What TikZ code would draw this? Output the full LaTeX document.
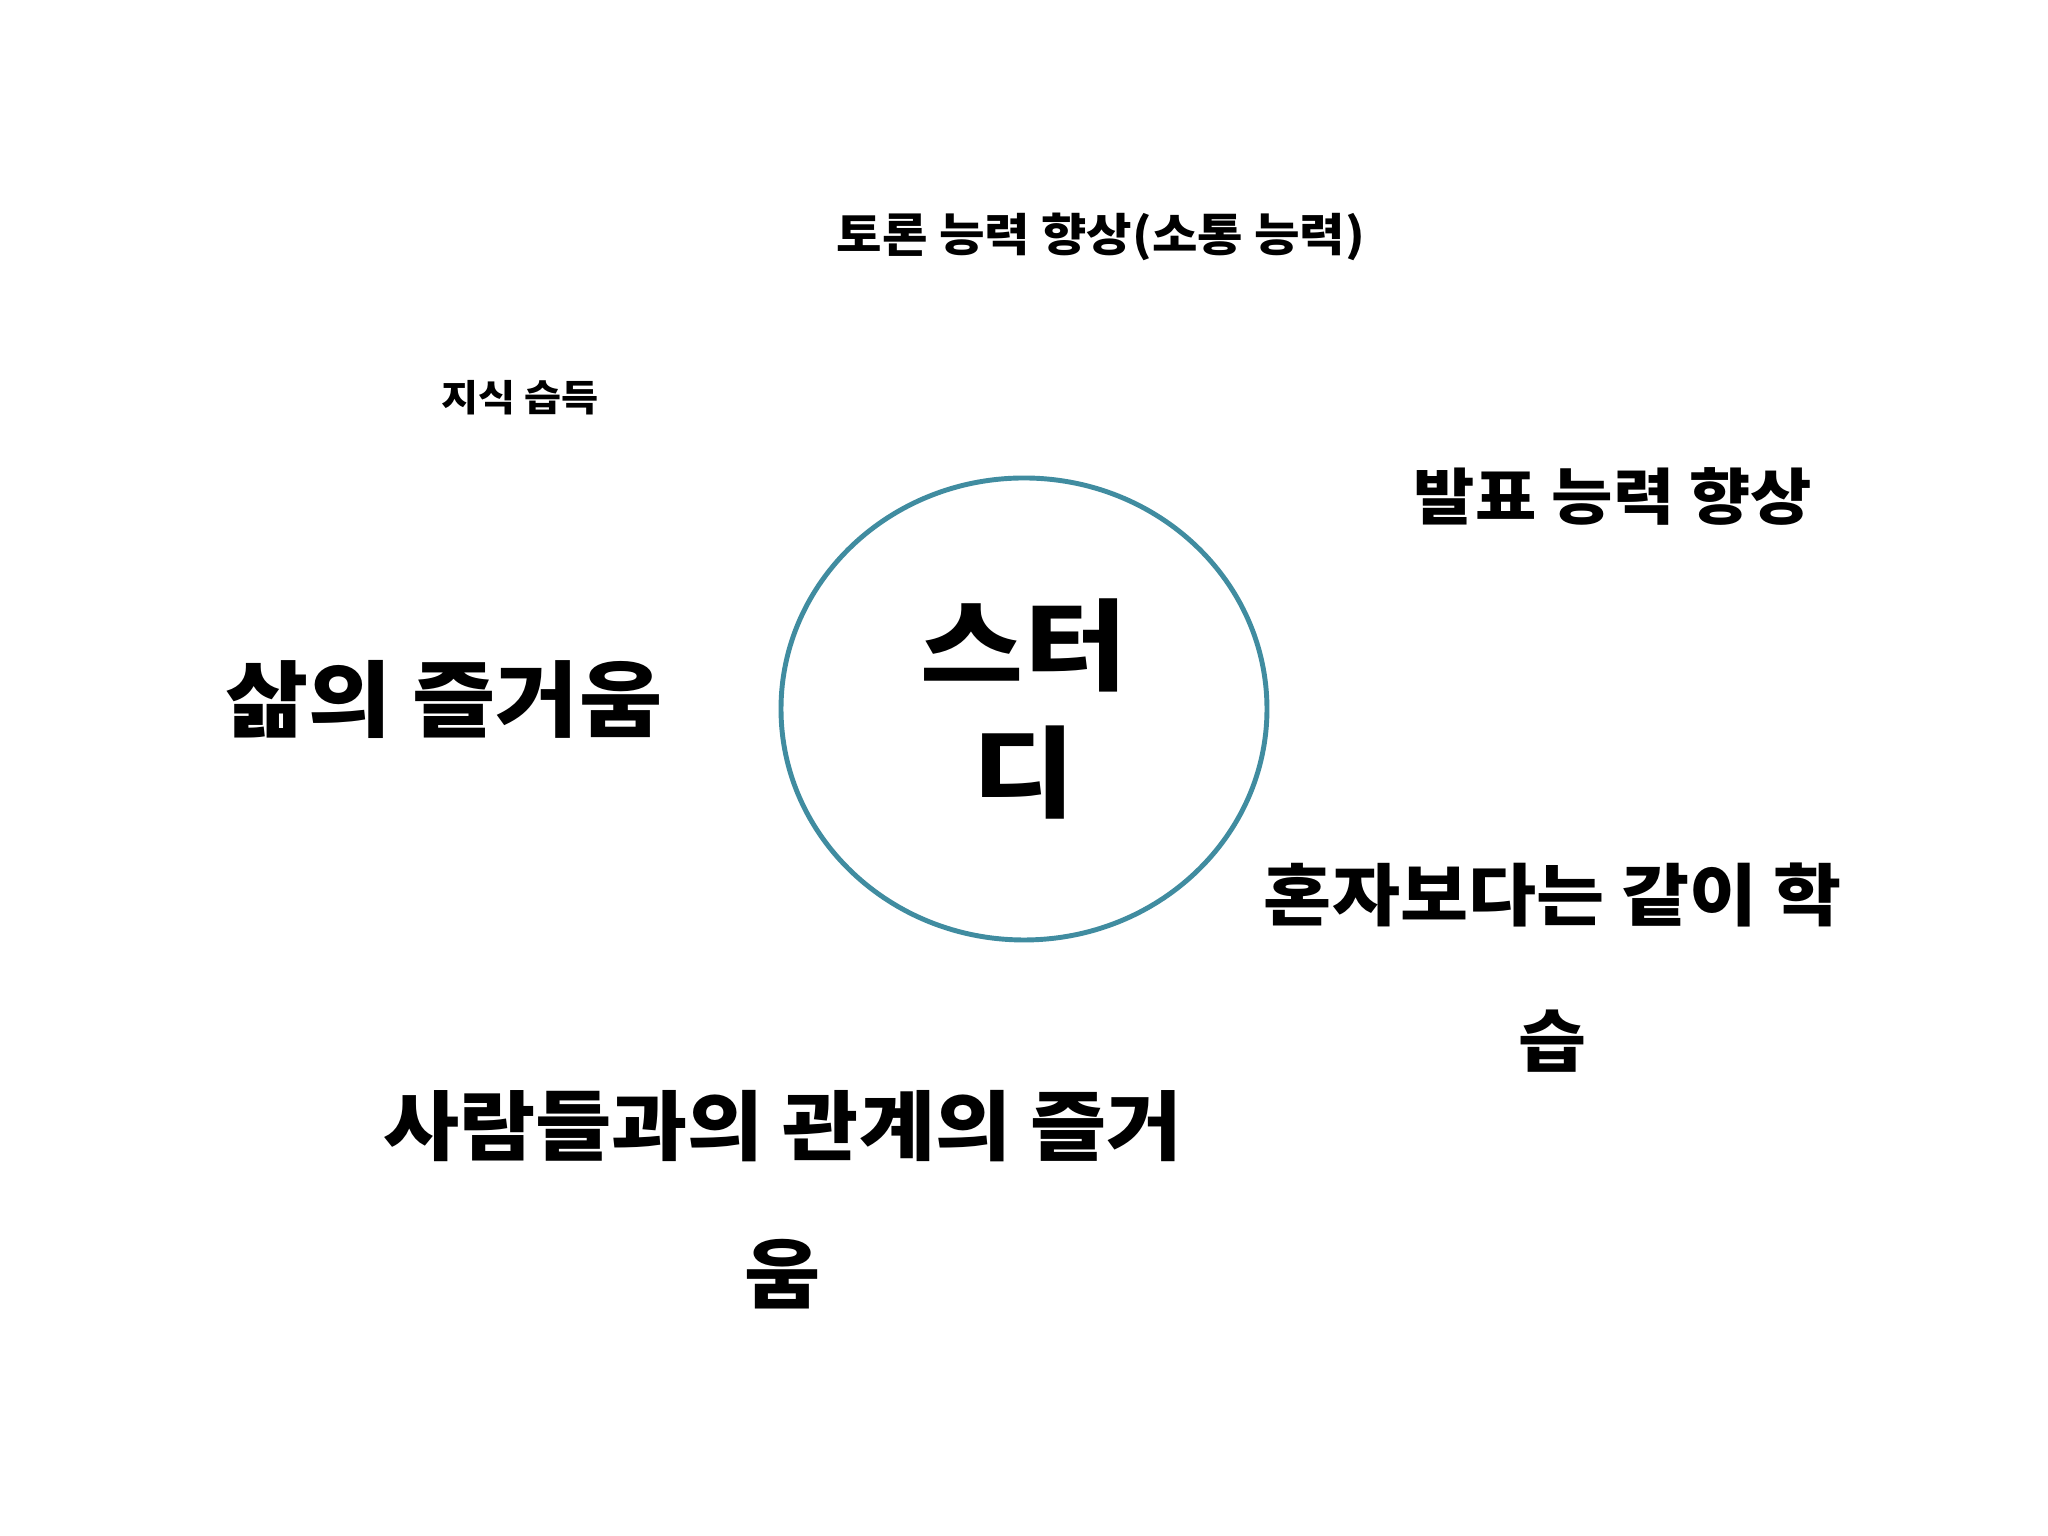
\documentclass[tikz,border=0pt]{standalone}
\usepackage{fontspec}
\newfontfamily\krfont{Noto Sans CJK KR}[FakeStretch=1.09]
\newfontfamily\krwide{Noto Sans CJK KR}[FakeStretch=1.13]
\usetikzlibrary{shapes.geometric, positioning}
\definecolor{studyTeal}{RGB}{64, 140, 160}

\begin{document}
\begin{tikzpicture}[
    benefit/.style={
        inner sep=0pt,
        align=center,
        text=black,
        font=\krfont\bfseries
    },
    hub/.style={
        ellipse,
        draw=studyTeal,
        line width=1.4pt,
        minimum width=4.86cm,
        minimum height=4.62cm,
        inner sep=0pt,
        align=center,
        font=\krwide\bfseries\fontsize{28.2}{36}\selectfont
    }
]

% Page
\useasboundingbox (0, 0) rectangle (20.48, 15.36);
\fill[white] (0, 0) rectangle (20.48, 15.36);

% Center
\node[hub] (study) at (10.24, 8.27) {스터\\디};

% Benefits around the center
\node[benefit, font=\krfont\bfseries\fontsize{12.9}{16}\selectfont] (debate) at (11.01, 12.99) {토론 능력 향상(소통 능력)};
\node[benefit, font=\krfont\bfseries\fontsize{10.5}{13}\selectfont] (knowledge) at (5.20, 11.38) {지식 습득};
\node[benefit, font=\krfont\bfseries\fontsize{17.4}{21}\selectfont] (present) at (16.13, 10.40) {발표 능력 향상};
\node[benefit, font=\krfont\bfseries\fontsize{23.6}{28}\selectfont] (joy) at (4.44, 8.37) {삶의 즐거움};
\node[benefit, font=\krfont\bfseries\fontsize{19.3}{41.5}\selectfont] (together) at (15.53, 5.68) {혼자보다는 같이 학\\습};
\node[benefit, font=\krfont\bfseries\fontsize{21.6}{42}\selectfont] (people) at (7.83, 3.36) {사람들과의 관계의 즐거\\움};

\end{tikzpicture}
\end{document}
